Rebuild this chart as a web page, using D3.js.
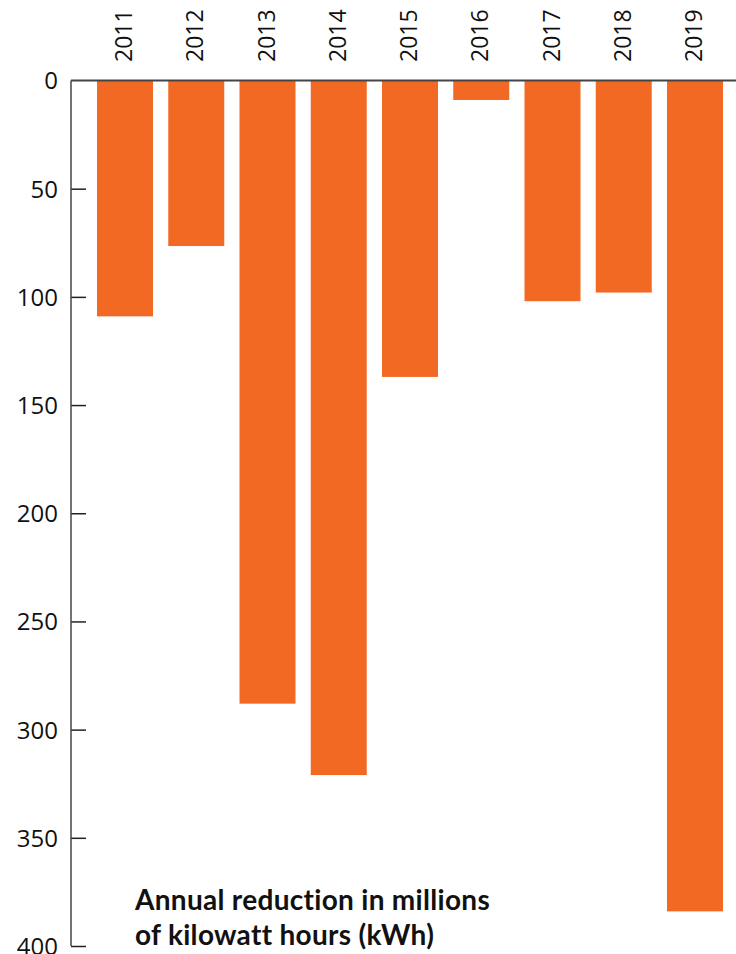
<!DOCTYPE html>
<head>
    <style>
        body { margin: 0; background: #fff; }
        svg { display: block; }
        .tick text { font-family: 'Open Sans', sans-serif; }
    </style>
</head>
<body>
    <script src="https://d3js.org/d3.v7.min.js"></script>
    <script>
        var years = ['2011', '2012', '2013', '2014', '2015', '2016', '2017', '2018', '2019'];
        var reduction = [109, 76.5, 288, 321, 137, 9, 102, 98, 384];
        var yTicks = [0, 50, 100, 150, 200, 250, 300, 350, 400];
        var titleLines = ['Annual reduction in millions', 'of kilowatt hours (kWh)'];

        var width = 736, height = 954;
        var axisX = 71, axisTop = 80.5, axisBottom = 946;

        var svg = d3.select('body')
                    .append('svg')
                    .attr('width', width)
                    .attr('height', height);

        // step 71.25px, bars 56px wide, first bar at x=97
        var x = d3.scaleBand()
                  .domain(years)
                  .range([97, 97 + 71.25 * (years.length - 1) + 56])
                  .paddingInner(15.25 / 71.25)
                  .paddingOuter(0);

        var y = d3.scaleLinear()
                  .domain([0, 400])
                  .range([axisTop, axisBottom]);

        svg.selectAll('rect.bar')
           .data(reduction)
           .enter()
           .append('rect')
           .attr('class', 'bar')
           .attr('x', (d, i) => x(years[i]))
           .attr('y', y(0))
           .attr('width', x.bandwidth())
           .attr('height', (d) => y(d) - y(0))
           .attr('fill', '#f26924');

        var yAxis = svg.append('g')
                       .attr('transform', 'translate(' + axisX + ',0)')
                       .call(d3.axisLeft(y).tickValues(yTicks).tickSize(-15).tickPadding(13));
        yAxis.select('.domain').remove();
        yAxis.append('line')
             .attr('y1', axisTop).attr('y2', axisBottom)
             .attr('stroke', '#444').attr('stroke-width', 1.5);
        yAxis.selectAll('.tick line').attr('stroke', '#222').attr('stroke-width', 1.5);
        yAxis.selectAll('.tick text')
             .attr('font-size', 24)
             .attr('fill', '#111')
             .attr('dy', '0.35em');
        yAxis.selectAll('.tick').filter((d) => d === 0).select('line').remove();

        svg.append('line')
           .attr('x1', axisX).attr('x2', width)
           .attr('y1', axisTop).attr('y2', axisTop)
           .attr('stroke', '#444').attr('stroke-width', 2);

        svg.selectAll('text.year')
           .data(years)
           .enter()
           .append('text')
           .attr('class', 'year')
           .attr('transform', (d) => 'translate(' + (x(d) + x.bandwidth() / 2 + 7) + ',62) rotate(-90)')
           .attr('font-family', 'Open Sans, sans-serif')
           .attr('font-size', 23)
           .attr('fill', '#111')
           .text((d) => d);

        svg.selectAll('text.title')
           .data(titleLines)
           .enter()
           .append('text')
           .attr('class', 'title')
           .attr('x', 135)
           .attr('y', (d, i) => 910 + i * 35)
           .attr('font-family', 'Lato, sans-serif')
           .attr('font-weight', 'bold')
           .attr('font-size', 28)
           .attr('letter-spacing', 0.3)
           .attr('fill', '#111')
           .text((d) => d);
    </script>
</body>
